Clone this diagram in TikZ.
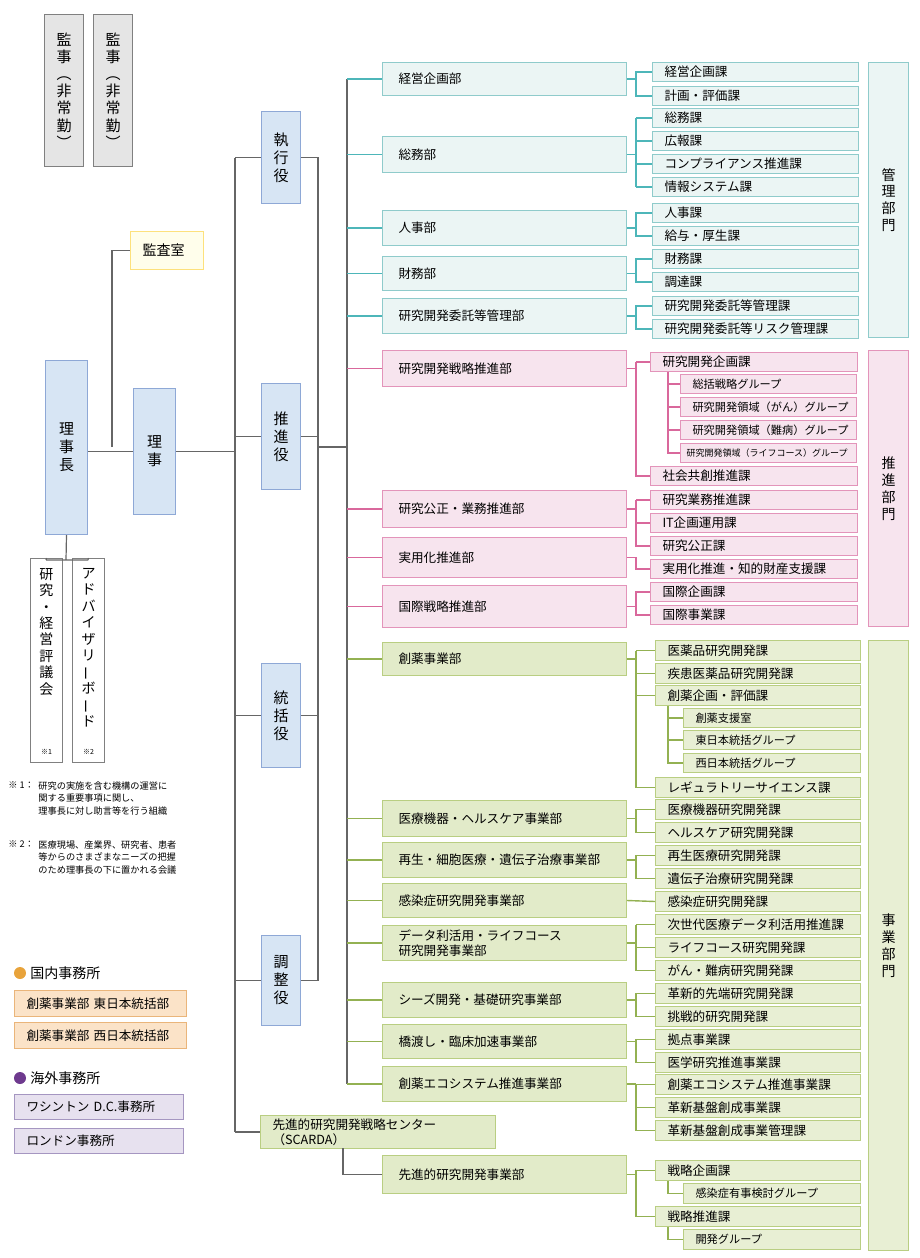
\documentclass[tikz,border=0pt]{standalone}
\usepackage{fontspec}
\setmainfont{Noto Sans CJK JP}
\usetikzlibrary{calc}

\definecolor{tlLine}{HTML}{4DB6B9}
\definecolor{tlDraw}{HTML}{8FCBCB}
\definecolor{tlFill}{HTML}{EBF5F4}
\definecolor{pkLine}{HTML}{D9689C}
\definecolor{pkDraw}{HTML}{E394BA}
\definecolor{pkFill}{HTML}{F7E4EE}
\definecolor{gnLine}{HTML}{93B152}
\definecolor{gnDraw}{HTML}{B9CE82}
\definecolor{gnFill}{HTML}{E2EBC9}
\definecolor{buFill}{HTML}{D7E5F4}
\definecolor{buDraw}{HTML}{8EA8D6}
\definecolor{orFill}{HTML}{FBE3C8}
\definecolor{orDraw}{HTML}{EAB57A}
\definecolor{orDot}{HTML}{E8A33B}
\definecolor{puFill}{HTML}{E7E1EF}
\definecolor{puDraw}{HTML}{A596C1}
\definecolor{puDot}{HTML}{6E3A8E}

% box: style, name, x1, y1, x2, y2, text
\newcommand\bx[7]{%
  \pgfmathsetmacro\bw{(#5-#3)*0.5-12}\pgfmathsetmacro\bh{(#6-#4)*0.5}%
  \node[#1, anchor=north west, text width=\bw pt, minimum height=\bh pt]
    (#2) at (#3,#4) {#7};}

\begin{document}
\begin{tikzpicture}[
    x=0.5pt, y=-0.5pt,
    every node/.style={font=\fontsize{6.3pt}{7.6pt}\selectfont, inner ysep=0pt, inner xsep=6pt, align=left},
    box/.style={draw, line width=0.5pt},
    dpT/.style={box, draw=tlDraw, fill=tlFill, inner xsep=8pt},
    scT/.style={box, draw=tlDraw, fill=tlFill},
    dpP/.style={box, draw=pkDraw, fill=pkFill, inner xsep=8pt},
    scP/.style={box, draw=pkDraw, fill=pkFill},
    grP/.style={scP, font=\fontsize{5.6pt}{6.5pt}\selectfont},
    dpG/.style={box, draw=gnDraw, fill=gnFill, inner xsep=8pt},
    scG/.style={box, draw=gnDraw, fill=gnFill!80},
    grG/.style={scG, font=\fontsize{5.6pt}{6.5pt}\selectfont},
    yaku/.style={box, draw=buDraw, fill=buFill, align=center, font=\fontsize{7.5pt}{9pt}\selectfont},
    bumon/.style={yaku, font=\fontsize{7pt}{8.4pt}\selectfont},
    ofc/.style={box, inner xsep=6pt},
    line/.style={draw=gray!80!black, line width=0.6pt},
    tl/.style={draw=tlLine, line width=0.7pt},
    pk/.style={draw=pkLine, line width=0.7pt},
    gn/.style={draw=gnLine, line width=0.7pt},
    note/.style={font=\fontsize{4.6pt}{6.4pt}\selectfont, inner sep=0pt, anchor=north west}
  ]
\useasboundingbox (0,0) rectangle (920,1258);

% fixed x positions of connectors
\coordinate (trunk) at (235,0);
\coordinate (rside) at (318,0);
\coordinate (bus) at (347,0);
\coordinate (bx) at (636,0);
\coordinate (gx) at (668,0);

% top management
\node[box, draw=gray, fill=gray!20, minimum width=16pt, minimum height=76pt, align=center, font=\fontsize{7.5pt}{8.6pt}\selectfont, anchor=north west] (k1) at (44,14) {監\\事\\︵\\非\\常\\勤\\︶};
\node[box, draw=gray, fill=gray!20, minimum width=16pt, minimum height=76pt, align=center, font=\fontsize{7.5pt}{8.6pt}\selectfont, anchor=north west] (k2) at (93,14) {監\\事\\︵\\非\\常\\勤\\︶};
\bx{box, draw=yellow!60!orange!50, fill=yellow!8, font=\fontsize{7pt}{8pt}\selectfont}{kansa}{130}{231}{203}{269}{監査室}
\node[yaku, minimum width=21pt, minimum height=87pt, anchor=north west] (rijicho) at (45,360) {理\\事\\長};
\node[yaku, minimum width=21pt, minimum height=63pt, anchor=north west] (riji) at (133,388) {理\\事};
\node[box, draw=gray, minimum width=16pt, minimum height=102pt, anchor=north west] (hyogi) at (30,558) {};
\node[align=center, anchor=north, font=\fontsize{7pt}{8.2pt}\selectfont] at (hyogi.north) [yshift=-5pt] {研\\究\\・\\経\\営\\評\\議\\会};
\node[font=\fontsize{3.5pt}{4pt}\selectfont, anchor=south] at (hyogi.south) [yshift=4pt] {※1};
\node[box, draw=gray, minimum width=16pt, minimum height=102pt, anchor=north west] (board) at (72,558) {};
\node[align=center, anchor=north, font=\fontsize{7pt}{8.2pt}\selectfont] at (board.north) [yshift=-5pt] {ア\\ド\\バ\\イ\\ザ\\リ\\\rotatebox[origin=c]{90}{ー}\\ボ\\\rotatebox[origin=c]{90}{ー}\\ド};
\node[font=\fontsize{3.5pt}{4pt}\selectfont, anchor=south] at (board.south) [yshift=4pt] {※2};

\node[yaku, minimum width=16pt, minimum height=46pt, anchor=north west] (shikko) at (261,111) {執\\行\\役};
\node[yaku, minimum width=16pt, minimum height=53pt, anchor=north west] (suishin) at (261,383) {推\\進\\役};
\node[yaku, minimum width=16pt, minimum height=52pt, anchor=north west] (tokatsu) at (261,663) {統\\括\\役};
\node[yaku, minimum width=16pt, minimum height=45pt, anchor=north west] (chosei) at (261,935) {調\\整\\役};

% management lines
\draw[line] (rijicho.east |- riji.west) -- (riji.west);
\draw[line] (112,447) |- (kansa.west);
\draw[line] (rijicho.south) -- (66,560) (46,560) -- (88,560) (46,560) -- (hyogi.north) (88,560) -- (board.north);
\draw[line] (riji.east) -- (riji.east -| trunk);
\draw[line] (shikko.west -| trunk) -- (235,1132);
\draw[line] (shikko.west -| trunk) -- (shikko.west) (suishin.west -| trunk) -- (suishin.west)
  (tokatsu.west -| trunk) -- (tokatsu.west) (chosei.west -| trunk) -- (chosei.west);
\draw[line] (shikko.east) -- (shikko.east -| rside) -- (chosei.east -| rside) -- (chosei.east)
  (suishin.east) -- (suishin.east -| rside) (tokatsu.east) -- (tokatsu.east -| rside)
  (318,447) -- (347,447);

% departments
\bx{dpT}{d1}{382}{62}{618}{95}{経営企画部}
\bx{dpT}{d2}{382}{136}{618}{172}{総務部}
\bx{dpT}{d3}{382}{210}{618}{245}{人事部}
\bx{dpT}{d4}{382}{256}{618}{290}{財務部}
\bx{dpT}{d5}{382}{298}{618}{333}{研究開発委託等管理部}
\bx{dpP}{p1}{382}{350}{618}{386}{研究開発戦略推進部}
\bx{dpP}{p2}{382}{490}{618}{527}{研究公正・業務推進部}
\bx{dpP}{p3}{382}{537}{618}{577}{実用化推進部}
\bx{dpP}{p4}{382}{585}{618}{627}{国際戦略推進部}
\bx{dpG}{g1}{382}{642}{618}{675}{創薬事業部}
\bx{dpG}{g2}{382}{800}{618}{836}{医療機器・ヘルスケア事業部}
\bx{dpG}{g3}{382}{842}{618}{877}{再生・細胞医療・遺伝子治療事業部}
\bx{dpG}{g4}{382}{883}{618}{917}{感染症研究開発事業部}
\bx{dpG}{g5}{382}{925}{618}{960}{データ利活用・ライフコース\\研究開発事業部}
\bx{dpG}{g6}{382}{982}{618}{1017}{シーズ開発・基礎研究事業部}
\bx{dpG}{g7}{382}{1024}{618}{1058}{橋渡し・臨床加速事業部}
\bx{dpG}{g8}{382}{1066}{618}{1101}{創薬エコシステム推進事業部}
\bx{dpG, inner xsep=6pt}{c0}{260}{1115}{495}{1148}{先進的研究開発戦略センター\\（SCARDA）}
\bx{dpG}{g9}{382}{1155}{618}{1193}{先進的研究開発事業部}

% bus to departments
\draw[line] (d1.west -| bus) -- (g8.west -| bus);
\foreach \d in {d1,d2,d3,d4,d5} \draw[tl] (\d.west -| bus) -- (\d.west);
\foreach \d in {p1,p2,p3,p4} \draw[pk] (\d.west -| bus) -- (\d.west);
\foreach \d in {g1,g2,g3,g4,g5,g6,g7,g8} \draw[gn] (\d.west -| bus) -- (\d.west);
\draw[line] (235,1132) -- (c0.west);
\draw[line] (343,1148) |- (g9.west);

% sections: management
\bx{scT}{s1}{652}{62}{858}{81}{経営企画課}
\bx{scT}{s2}{652}{86}{858}{105}{計画・評価課}
\bx{scT}{s3}{652}{108}{858}{127}{総務課}
\bx{scT}{s4}{652}{131}{858}{150}{広報課}
\bx{scT}{s5}{652}{154}{858}{173}{コンプライアンス推進課}
\bx{scT}{s6}{652}{177}{858}{196}{情報システム課}
\bx{scT}{s7}{652}{203}{858}{222}{人事課}
\bx{scT}{s8}{652}{226}{858}{245}{給与・厚生課}
\bx{scT}{s9}{652}{249}{858}{268}{財務課}
\bx{scT}{s10}{652}{272}{858}{291}{調達課}
\bx{scT}{s11}{652}{296}{858}{315}{研究開発委託等管理課}
\bx{scT}{s12}{652}{319}{858}{338}{研究開発委託等リスク管理課}

% sections: promotion
\bx{scP}{t1}{650}{352}{857}{371}{研究開発企画課}
\bx{grP}{t2}{680}{374}{856}{393}{総括戦略グループ}
\bx{grP}{t3}{680}{397}{856}{416}{研究開発領域（がん）グループ}
\bx{grP}{t4}{680}{420}{856}{439}{研究開発領域（難病）グループ}
\bx{grP, font=\fontsize{4.5pt}{6pt}\selectfont, inner xsep=3pt}{t5}{680}{443}{868}{462}{研究開発領域（ライフコース）グループ}
\bx{scP}{t6}{650}{466}{857}{485}{社会共創推進課}
\bx{scP}{t7}{650}{490}{857}{509}{研究業務推進課}
\bx{scP}{t8}{650}{513}{857}{532}{IT企画運用課}
\bx{scP}{t9}{650}{536}{857}{555}{研究公正課}
\bx{scP}{t10}{650}{559}{857}{578}{実用化推進・知的財産支援課}
\bx{scP}{t11}{650}{582}{857}{601}{国際企画課}
\bx{scP}{t12}{650}{605}{857}{624}{国際事業課}

% sections: business
\bx{scG}{u1}{655}{640}{860}{660}{医薬品研究開発課}
\bx{scG}{u2}{655}{663}{860}{683}{疾患医薬品研究開発課}
\bx{scG}{u3}{655}{685}{860}{705}{創薬企画・評価課}
\bx{grG}{u4}{683}{708}{860}{727}{創薬支援室}
\bx{grG}{u5}{683}{730}{860}{749}{東日本統括グループ}
\bx{grG}{u6}{683}{753}{860}{772}{西日本統括グループ}
\bx{scG}{u7}{655}{777}{860}{797}{レギュラトリーサイエンス課}
\bx{scG}{u8}{655}{799}{860}{819}{医療機器研究開発課}
\bx{scG}{u9}{655}{822}{860}{842}{ヘルスケア研究開発課}
\bx{scG}{u10}{655}{845}{860}{865}{再生医療研究開発課}
\bx{scG}{u11}{655}{868}{860}{888}{遺伝子治療研究開発課}
\bx{scG}{u12}{655}{891}{860}{911}{感染症研究開発課}
\bx{scG}{u13}{655}{914}{860}{934}{次世代医療データ利活用推進課}
\bx{scG}{u14}{655}{937}{860}{957}{ライフコース研究開発課}
\bx{scG}{u15}{655}{960}{860}{980}{がん・難病研究開発課}
\bx{scG}{u16}{655}{983}{860}{1003}{革新的先端研究開発課}
\bx{scG}{u17}{655}{1006}{860}{1026}{挑戦的研究開発課}
\bx{scG}{u18}{655}{1029}{860}{1049}{拠点事業課}
\bx{scG}{u19}{655}{1052}{860}{1072}{医学研究推進事業課}
\bx{scG}{u20}{655}{1074}{860}{1094}{創薬エコシステム推進事業課}
\bx{scG}{u21}{655}{1097}{860}{1117}{革新基盤創成事業課}
\bx{scG}{u22}{655}{1120}{860}{1140}{革新基盤創成事業管理課}
\bx{scG}{v1}{655}{1160}{860}{1180}{戦略企画課}
\bx{grG}{v2}{683}{1183}{860}{1203}{感染症有事検討グループ}
\bx{scG}{v3}{655}{1206}{860}{1226}{戦略推進課}
\bx{grG}{v4}{683}{1229}{860}{1249}{開発グループ}

% brackets department -> sections
\draw[tl] (d1.east) -- (d1.east -| bx) (d1.east -| bx) |- (s1.west) (d1.east -| bx) |- (s2.west);
\draw[tl] (d2.east) -- (d2.east -| bx) (s3.west -| bx) -- (s6.west -| bx)
  \foreach \s in {s3,s4,s5,s6} {(\s.west -| bx) -- (\s.west)};
\draw[tl] (d3.east) -- (d3.east -| bx) (d3.east -| bx) |- (s7.west) (d3.east -| bx) |- (s8.west);
\draw[tl] (d4.east) -- (d4.east -| bx) (d4.east -| bx) |- (s9.west) (d4.east -| bx) |- (s10.west);
\draw[tl] (d5.east) -- (d5.east -| bx) (d5.east -| bx) |- (s11.west) (d5.east -| bx) |- (s12.west);

\draw[pk] (p1.east) -- (p1.east -| bx) (t1.west -| bx) -- (t1.west) (t1.west -| bx) |- (t6.west);
\draw[pk] (t1.south -| gx) |- (t5.west) \foreach \s in {t2,t3,t4} {(\s.west -| gx) -- (\s.west)};
\draw[pk] (p2.east) -- (p2.east -| bx) (t7.west -| bx) |- (t9.west) (t7.west -| bx) -- (t7.west) (t8.west -| bx) -- (t8.west);
\draw[pk] (p3.east) -- (p3.east -| bx) |- (t10.west);
\draw[pk] (p4.east) -- (p4.east -| bx) (p4.east -| bx) |- (t11.west) (p4.east -| bx) |- (t12.west);

\draw[gn] (g1.east) -- (g1.east -| bx) (u1.west -| bx) |- (u7.west)
  \foreach \s in {u1,u2,u3} {(\s.west -| bx) -- (\s.west)};
\draw[gn] (u3.south -| gx) |- (u6.west) \foreach \s in {u4,u5} {(\s.west -| gx) -- (\s.west)};
\draw[gn] (g2.east) -- (g2.east -| bx) (g2.east -| bx) |- (u8.west) (g2.east -| bx) |- (u9.west);
\draw[gn] (g3.east) -- (g3.east -| bx) (g3.east -| bx) |- (u10.west) (g3.east -| bx) |- (u11.west);
\draw[gn] (g4.east) -- (u12.west);
\draw[gn] (g5.east) -- (g5.east -| bx) (u13.west -| bx) |- (u15.west) (u13.west -| bx) -- (u13.west) (u14.west -| bx) -- (u14.west);
\draw[gn] (g6.east) -- (g6.east -| bx) (g6.east -| bx) |- (u16.west) (g6.east -| bx) |- (u17.west);
\draw[gn] (g7.east) -- (g7.east -| bx) (g7.east -| bx) |- (u18.west) (g7.east -| bx) |- (u19.west);
\draw[gn] (g8.east) -- (g8.east -| bx) (u20.west -| bx) |- (u22.west) (u20.west -| bx) -- (u20.west) (u21.west -| bx) -- (u21.west);
\draw[gn] (g9.east) -- (g9.east -| bx) (g9.east -| bx) |- (v1.west) (g9.east -| bx) |- (v3.west);
\draw[gn] (v1.south -| gx) |- (v2.west) (v3.south -| gx) |- (v4.west);

% divisions
\node[bumon, draw=tlDraw, fill=tlFill, minimum width=20pt, minimum height=137.5pt, anchor=north west] (kanri) at (868,62) {管\\理\\部\\門};
\node[bumon, draw=pkDraw, fill=pkFill, minimum width=20pt, minimum height=138pt, anchor=north west] (suishinbu) at (868,350) {推\\進\\部\\門};
\node[bumon, draw=gnDraw, fill=gnFill!80, minimum width=20pt, minimum height=305pt, anchor=north west] (jigyo) at (868,640) {事\\業\\部\\門};

% notes
\node[note] (n1) at (8,781) {※ 1：};
\node[note] at (38,781) {研究の実施を含む機構の運営に\\関する重要事項に関し、\\理事長に対し助言等を行う組織};
\node[note] (n2) at (8,840) {※ 2：};
\node[note] at (38,840) {医療現場、産業界、研究者、患者\\等からのさまざまなニーズの把握\\のため理事長の下に置かれる会議};

% offices
\node[circle, fill=orDot, inner sep=0pt, minimum size=6pt] (dot1) at (20,973) {};
\node[anchor=west, font=\fontsize{7pt}{8pt}\selectfont, inner xsep=0pt] at (30,973) {国内事務所};
\bx{ofc, draw=orDraw, fill=orFill}{o1}{14}{990}{186}{1016}{創薬事業部 東日本統括部}
\bx{ofc, draw=orDraw, fill=orFill}{o2}{14}{1022}{186}{1048}{創薬事業部 西日本統括部}
\node[circle, fill=puDot, inner sep=0pt, minimum size=6pt] (dot2) at (20,1078) {};
\node[anchor=west, font=\fontsize{7pt}{8pt}\selectfont, inner xsep=0pt] at (30,1078) {海外事務所};
\bx{ofc, draw=puDraw, fill=puFill}{o3}{14}{1094}{183}{1119}{ワシントン D.C.事務所}
\bx{ofc, draw=puDraw, fill=puFill}{o4}{14}{1128}{183}{1153}{ロンドン事務所}
\end{tikzpicture}
\end{document}
